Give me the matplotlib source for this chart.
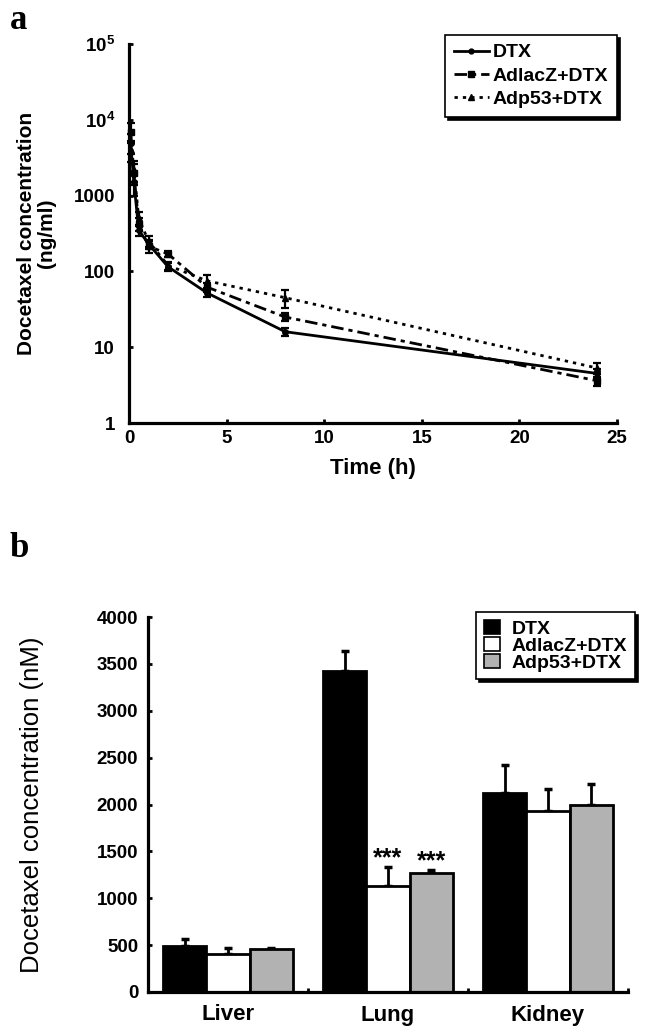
import numpy as np
import matplotlib
matplotlib.use("Agg")
import matplotlib.pyplot as plt
from matplotlib.patches import Patch
from matplotlib.lines import Line2D

plt.rcParams["font.family"] = ["Liberation Sans", "DejaVu Sans"]
plt.rcParams["mathtext.fontset"] = "custom"
plt.rcParams["mathtext.rm"] = "Liberation Sans:bold"
plt.rcParams["mathtext.it"] = "Liberation Sans:bold"
plt.rcParams["mathtext.bf"] = "Liberation Sans:bold"

# ---- panel a: plasma concentration vs time ----
time_h = [0.083, 0.25, 0.5, 1, 2, 4, 8, 24]
dtx = [5000, 1500, 350, 230, 115, 52, 16, 4.5]
dtx_err = [1500, 500, 60, 30, 15, 6, 2, 0.6]
adlacz = [7000, 2000, 420, 215, 170, 62, 25, 3.6]
adlacz_err = [2000, 600, 80, 40, 15, 8, 3, 0.5]
adp53 = [4000, 2200, 500, 250, 120, 75, 45, 5.3]
adp53_err = [1200, 700, 100, 40, 15, 15, 12, 0.9]

a_xticks = [0, 5, 10, 15, 20, 25]
a_yticks = [1, 10, 100, 1000, 1e4, 1e5]
a_yticklabels = ["1", "10", "100", "1000", r"$10^4$", r"$10^5$"]

# ---- panel b: tissue concentration ----
tissues = ["Liver", "Lung", "Kidney"]
groups = ["DTX", "AdlacZ+DTX", "Adp53+DTX"]
tissue_vals = {
    "DTX": [490, 3425, 2125],
    "AdlacZ+DTX": [405, 1135, 1930],
    "Adp53+DTX": [460, 1270, 1995],
}
tissue_err = {
    "DTX": [75, 210, 300],
    "AdlacZ+DTX": [65, 200, 235],
    "Adp53+DTX": [12, 32, 225],
}
bar_colors = {"DTX": "black", "AdlacZ+DTX": "white", "Adp53+DTX": "#b2b2b2"}
b_yticks = [0, 500, 1000, 1500, 2000, 2500, 3000, 3500, 4000]

W, H = 645, 1033
fig = plt.figure(figsize=(W / 100, H / 100), dpi=100)

spine_lw = 2.3
shadow = {"color": "black", "alpha": 1}

# ----- panel a -----
ax = fig.add_axes([129 / W, 1 - 423 / H, 488 / W, 379 / H])
ax.set_yscale("log")
series = [
    ("DTX", dtx, dtx_err, "o", 4, "-"),
    ("AdlacZ+DTX", adlacz, adlacz_err, "s", 4.5, (0, (4.5, 1.8, 1.5, 1.8))),
    ("Adp53+DTX", adp53, adp53_err, "^", 5, (0, (1.2, 1.8))),
]
proxies = []
for name, vals, err, mk, ms, ls in series:
    ax.errorbar(time_h, vals, yerr=err, color="black", marker=mk, ms=ms,
                lw=2, linestyle=ls, elinewidth=1.6, capsize=3, capthick=1.6,
                clip_on=False)
    proxies.append(Line2D([], [], color="black", marker=mk, ms=ms - 0.5,
                          lw=2, linestyle=ls))
ax.set_xlim(0, 25)
ax.set_ylim(1, 1e5)
ax.set_xticks(a_xticks)
ax.set_xticklabels([str(v) for v in a_xticks], fontweight="bold")
ax.set_yticks(a_yticks)
ax.set_yticklabels(a_yticklabels, fontweight="bold")
ax.minorticks_off()
ax.tick_params(direction="in", length=3, width=2, labelsize=13.5)
ax.tick_params(axis="y", pad=10)
ax.tick_params(axis="x", pad=5)
for s in ["top", "right"]:
    ax.spines[s].set_visible(False)
for s in ["left", "bottom"]:
    ax.spines[s].set_linewidth(spine_lw)
ax.set_xlabel("Time (h)", fontsize=16, fontweight="bold", labelpad=8)
ax.set_ylabel("Docetaxel concentration\n(ng/ml)", fontsize=15,
              fontweight="bold", linespacing=1.05)
ax.yaxis.set_label_coords((56 - 129) / 488, 0.5)
leg = ax.legend(proxies, [s[0] for s in series], loc="upper right",
                bbox_to_anchor=(617 / W, 1 - 35 / H),
                bbox_transform=fig.transFigure, borderaxespad=0,
                frameon=True, fancybox=False, shadow=shadow,
                prop={"weight": "bold", "size": 14}, handlelength=1.8,
                handletextpad=0.2, labelspacing=0.3, borderpad=0.45)
leg.get_frame().set_edgecolor("black")
leg.get_frame().set_linewidth(1.2)

# ----- panel b -----
bx = fig.add_axes([148 / W, 1 - 992 / H, 480 / W, 375 / H])
x = np.arange(len(tissues))
bw = 0.27
for i, g in enumerate(groups):
    pos = x + (i - 1) * bw
    vals = tissue_vals[g]
    err = tissue_err[g]
    bx.bar(pos, vals, width=bw, color=bar_colors[g], edgecolor="black",
           linewidth=2, zorder=2)
    bx.errorbar(pos, vals, yerr=[np.zeros(len(vals)), err], fmt="none",
                ecolor="black", elinewidth=2, capsize=3, capthick=2.5, zorder=1)
# significance marks on lung
for i, g in enumerate(groups[1:], start=1):
    top = tissue_vals[g][1] + tissue_err[g][1]
    bx.text(x[1] + (i - 1) * bw, top + 20, "***", ha="center", va="baseline",
            fontsize=18, fontweight="bold")
bx.set_xlim(-0.5, 2.5)
bx.set_ylim(0, 4000)
bx.set_yticks(b_yticks)
bx.set_yticklabels([str(v) for v in b_yticks], fontweight="bold")
bx.set_xticks(x)
bx.set_xticklabels(tissues, fontweight="bold", fontsize=16)
bx.set_xticks([0.5, 1.5, 2.5], minor=True)
bx.tick_params(direction="in", length=3, width=2, labelsize=13.5)
bx.tick_params(axis="y", pad=7)
bx.tick_params(axis="x", which="major", length=0, pad=9, labelsize=16)
bx.tick_params(axis="x", which="minor", direction="in", length=3, width=2)
for s in ["top", "right"]:
    bx.spines[s].set_visible(False)
for s in ["left", "bottom"]:
    bx.spines[s].set_linewidth(spine_lw)
bx.set_ylabel("Docetaxel concentration (nM)", fontsize=18.5)
bx.yaxis.set_label_coords((44 - 148) / 480, 0.5)
handles = [Patch(facecolor=bar_colors[g], edgecolor="black", linewidth=1.2)
           for g in groups]
leg2 = bx.legend(handles, groups, loc="upper right",
                 bbox_to_anchor=(635 / W, 1 - 612 / H),
                 bbox_transform=fig.transFigure, borderaxespad=0,
                 frameon=True, fancybox=False, shadow=shadow,
                 prop={"weight": "bold", "size": 14}, handlelength=0.85,
                 handleheight=0.75, handletextpad=0.6, labelspacing=-0.05,
                 borderpad=0.4)
leg2.get_frame().set_edgecolor("black")
leg2.get_frame().set_linewidth(1.2)

# panel letters
fig.text(10 / W, 1 - 29 / H, "a", fontsize=25, fontweight="bold",
         family="Liberation Serif", va="baseline")
fig.text(10 / W, 1 - 557 / H, "b", fontsize=25, fontweight="bold",
         family="Liberation Serif", va="baseline")

fig.savefig("out.png", dpi=100)
